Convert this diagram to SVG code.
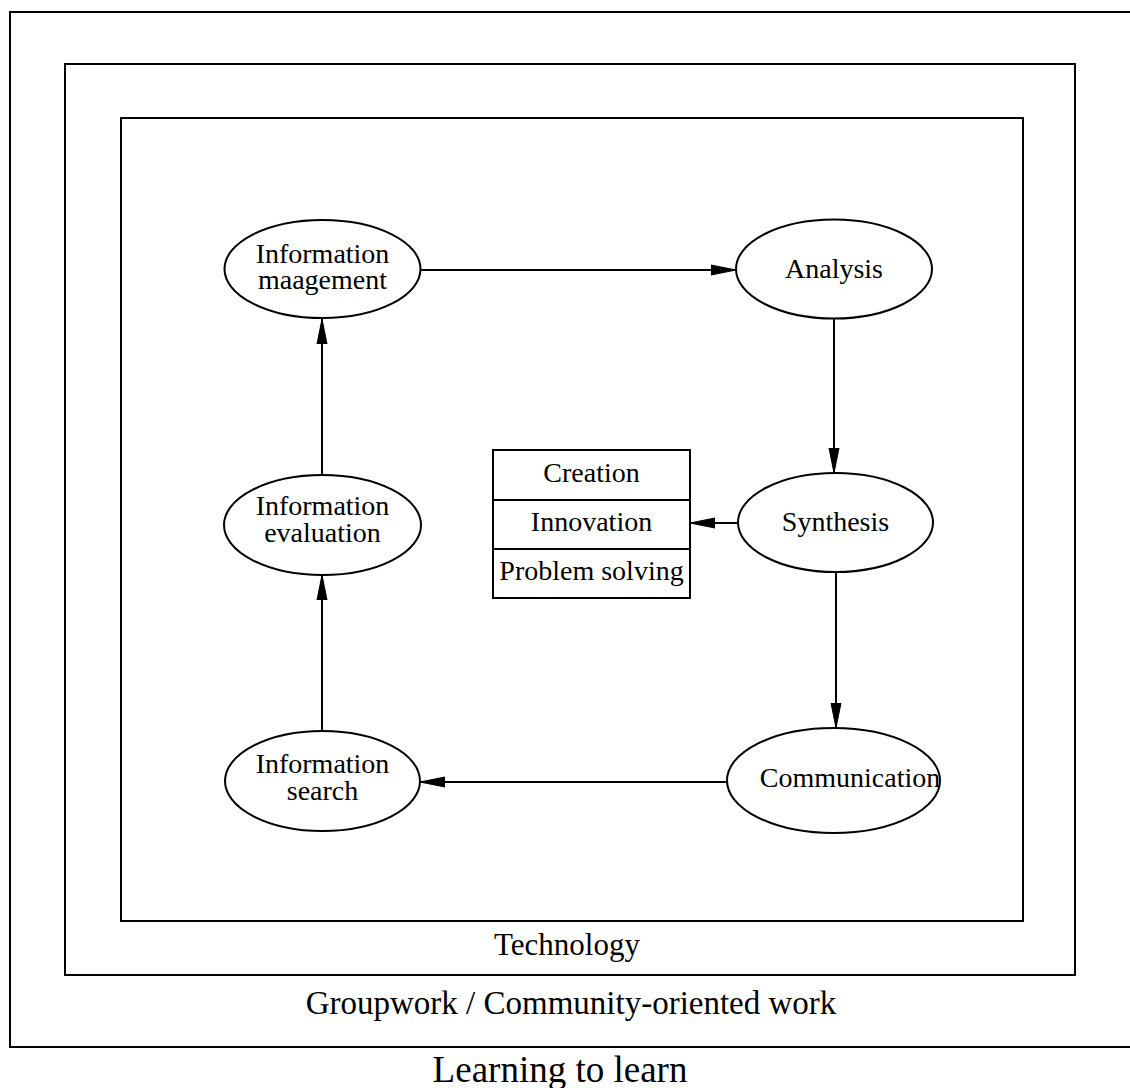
<svg xmlns="http://www.w3.org/2000/svg" width="1130" height="1088" viewBox="0 0 1130 1088">
<style>
.frame{fill:none;stroke:#000;stroke-width:2}
.node{fill:#fff;stroke:#000;stroke-width:2}
.edge{fill:none;stroke:#000;stroke-width:2}
text{font-family:"Liberation Serif","Times New Roman",serif;fill:#000;text-anchor:middle}
.nt{font-size:28px}
</style>
<defs>
<marker id="arr" markerUnits="userSpaceOnUse" markerWidth="26" markerHeight="12" refX="25" refY="6" orient="auto">
<path d="M0,1 L25,6 L0,11 Z" fill="#000" stroke="#000" stroke-width="1"/>
</marker>
</defs>
<rect width="1130" height="1088" fill="#fff"/>
<g id="cluster-learning">
<rect class="frame" x="10" y="12" width="1130" height="1035"/>
<text x="560" y="1082" style="font-size:37px">Learning to learn</text>
</g>
<g id="cluster-groupwork">
<rect class="frame" x="65" y="64" width="1010" height="911"/>
<text x="571" y="1014" style="font-size:33px">Groupwork / Community-oriented work</text>
</g>
<g id="cluster-technology">
<rect class="frame" x="121" y="118" width="902" height="803"/>
<text x="567" y="955" style="font-size:31px">Technology</text>
</g>
<g id="connectors">
<line class="edge" x1="421" y1="270" x2="736" y2="270" marker-end="url(#arr)"/>
<line class="edge" x1="834" y1="318" x2="834" y2="473" marker-end="url(#arr)"/>
<line class="edge" x1="738" y1="523" x2="690" y2="523" marker-end="url(#arr)"/>
<line class="edge" x1="836" y1="572" x2="836" y2="728" marker-end="url(#arr)"/>
<line class="edge" x1="727" y1="782" x2="420" y2="782" marker-end="url(#arr)"/>
<line class="edge" x1="322" y1="731" x2="322" y2="575" marker-end="url(#arr)"/>
<line class="edge" x1="322" y1="475" x2="322" y2="319" marker-end="url(#arr)"/>
</g>
<g id="node-info-management">
<ellipse class="node" cx="322.5" cy="269" rx="98" ry="49"/>
<text class="nt" x="322.5" y="263">Information</text>
<text class="nt" x="322.5" y="289">maagement</text>
</g>
<g id="node-analysis">
<ellipse class="node" cx="834" cy="269" rx="98" ry="49.5"/>
<text class="nt" x="834" y="278">Analysis</text>
</g>
<g id="node-synthesis">
<ellipse class="node" cx="835.5" cy="522.5" rx="97.5" ry="49.5"/>
<text class="nt" x="835.5" y="531">Synthesis</text>
</g>
<g id="node-communication">
<ellipse class="node" cx="833.5" cy="780.5" rx="106.5" ry="52.5"/>
<text class="nt" x="850" y="787">Communication</text>
</g>
<g id="node-info-search">
<ellipse class="node" cx="322.5" cy="781" rx="97.5" ry="50"/>
<text class="nt" x="322.5" y="773">Information</text>
<text class="nt" x="322.5" y="800">search</text>
</g>
<g id="node-info-evaluation">
<ellipse class="node" cx="322.5" cy="525" rx="98.5" ry="50"/>
<text class="nt" x="322.5" y="515">Information</text>
<text class="nt" x="322.5" y="542">evaluation</text>
</g>
<g id="node-record">
<rect class="node" x="493" y="450" width="197" height="148"/>
<line class="edge" x1="493" y1="500" x2="690" y2="500"/>
<line class="edge" x1="493" y1="549" x2="690" y2="549"/>
<text class="nt" x="591.5" y="482">Creation</text>
<text class="nt" x="591.5" y="531">Innovation</text>
<text class="nt" x="591.5" y="580">Problem solving</text>
</g>
</svg>
